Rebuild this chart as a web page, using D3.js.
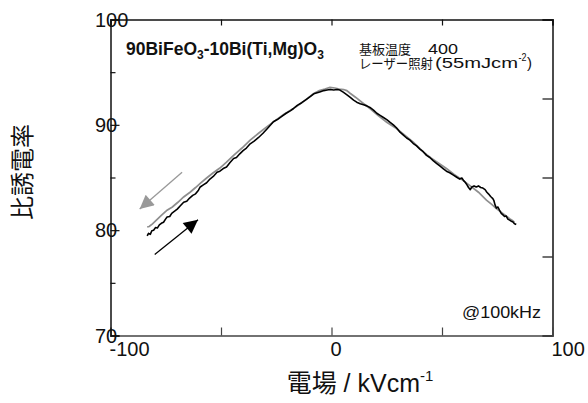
<!DOCTYPE html>
<html><head><meta charset="utf-8">
<script src="https://cdn.jsdelivr.net/npm/d3@7"></script>
<style>
body{margin:0;background:#fff;}
svg{display:block;}
text{font-family:"Liberation Sans",Arial,"Noto Sans CJK JP",sans-serif;fill:#111;}
.cjk{font-family:"Noto Sans CJK JP","Liberation Sans",sans-serif;}
</style></head>
<body><svg id="c" width="588" height="403"></svg>
<script>
// ---- data ----
const xTickLabels = [-100, 0, 100];
const yTickLabels = [70, 80, 90, 100];
const yMinorTicks = [75, 85, 95];
const xInnerTicks = [-50, 0, 50];
const rightTicks = [70, 77.5, 85, 92.5, 100];
const topTicks = [-100, -50, 0, 50, 100];

// rising sweep (black)
const upSweep = [[-83.4,79.45],[-82.8,79.7],[-82.0,79.6],[-81.3,79.95],[-80.5,80.0],[-79.6,80.25],[-78.8,80.2],[-77.9,80.5],[-77.0,80.65],[-76.0,80.75],[-75.1,81.05],[-74.4,81.25],[-73.2,81.3],[-72.3,81.6],[-71.0,81.8],[-69.8,82.0],[-68.5,82.3],[-66.9,82.65],[-65.5,82.75],[-64.2,83.05],[-62.8,83.3],[-61.5,83.45],[-60.2,83.8],[-59.4,84.1],[-58.0,84.3],[-56.5,84.5],[-55.0,84.85],[-53.5,85.1],[-51.8,85.5],[-50.5,85.6],[-49.0,85.85],[-47.5,86.0],[-46.0,86.4],[-44.3,86.8],[-43.0,86.9],[-41.5,87.25],[-40.0,87.55],[-38.5,87.8],[-36.8,88.2],[-35.0,88.45],[-33.0,88.8],[-31.0,89.2],[-29.0,89.65],[-27.5,90.0],[-26.3,90.3],[-24.5,90.5],[-22.5,90.8],[-20.5,91.1],[-18.5,91.35],[-17.2,91.55],[-15.5,91.85],[-13.5,92.1],[-11.5,92.4],[-9.5,92.7],[-8.0,92.95],[-6.5,93.05],[-5.0,93.15],[-3.5,93.25],[-2.0,93.3],[-0.5,93.35],[1.0,93.3],[2.5,93.35],[3.8,93.3],[5.3,93.1],[7.0,92.85],[8.5,92.6],[10.0,92.35],[11.4,92.15],[13.0,92.0],[14.5,91.9],[16.0,91.8],[17.4,91.65],[19.0,91.4],[20.5,91.1],[22.0,90.9],[23.5,90.7],[25.0,90.5],[26.4,90.25],[28.0,90.0],[29.5,89.7],[31.0,89.3],[32.4,89.05],[34.0,88.75],[35.5,88.55],[36.9,88.25],[38.5,88.0],[40.0,87.7],[41.5,87.45],[43.0,87.1],[44.5,86.9],[46.0,86.6],[47.5,86.35],[49.0,86.1],[50.5,85.85],[52.0,85.6],[53.5,85.45],[55.0,85.25],[56.5,85.05],[58.0,84.85],[59.0,84.95],[59.8,84.7],[60.5,84.55],[61.3,84.3],[62.0,84.05],[62.8,83.85],[63.5,84.1],[64.5,84.2],[65.5,84.1],[66.5,84.2],[67.5,84.05],[68.5,84.0],[69.5,83.85],[70.3,83.6],[71.0,83.45],[72.0,83.2],[73.0,83.0],[73.5,82.8],[74.0,82.4],[74.6,82.1],[75.3,82.2],[76.0,81.9],[76.8,81.6],[77.6,81.45],[78.3,81.3],[79.0,81.35],[79.8,81.05],[80.6,80.95],[81.3,80.85],[82.0,80.8],[82.8,80.6],[83.6,80.55]];

// falling sweep (gray)
const downSweep = [[-83.4,80.3],[-82.5,80.35],[-81.0,80.6],[-79.0,81.0],[-77.0,81.4],[-74.4,81.9],[-72.0,82.2],[-69.5,82.65],[-66.9,83.15],[-64.0,83.6],[-61.5,84.05],[-59.4,84.45],[-56.5,84.95],[-53.5,85.45],[-50.5,85.9],[-47.5,86.45],[-44.3,87.1],[-40.5,87.8],[-36.8,88.55],[-33.0,89.2],[-29.3,89.8],[-25.5,90.4],[-21.5,91.0],[-17.2,91.55],[-13.0,92.15],[-8.2,92.95],[-5.5,93.25],[-3.0,93.4],[-0.7,93.55],[1.5,93.5],[3.5,93.4],[5.5,93.35],[6.9,93.25],[8.4,93.0],[11.0,92.6],[14.0,92.1],[17.4,91.55],[21.0,90.9],[25.0,90.25],[29.4,89.65],[33.0,89.05],[37.0,88.35],[41.4,87.45],[45.0,86.85],[48.5,86.35],[52.0,85.85],[55.5,85.3],[59.0,84.8],[62.5,84.25],[66.5,83.6],[70.1,82.85],[72.5,82.45],[74.6,82.05],[77.5,81.6],[80.6,81.1],[82.0,80.9],[82.8,80.75]];

// sweep direction arrows: [tail, tip]
const downArrow = [[-67.6,85.5],[-86.8,82.0]];
const upArrow = [[-80.0,77.7],[-60.4,81.0]];

// ---- chart ----
const svg = d3.select("#c");
const L=110.5, R=552.5, T=19.5, B=335.5;
const x = d3.scaleLinear().domain([-100,100]).range([L,R]);
const y = d3.scaleLinear().domain([70,100]).range([B,T]);

const defs = svg.append("defs");
function marker(id,col){
  defs.append("marker").attr("id",id).attr("viewBox","0 0 10 10").attr("refX",10).attr("refY",5)
    .attr("markerWidth",19).attr("markerHeight",14).attr("markerUnits","userSpaceOnUse").attr("orient","auto")
    .append("path").attr("d","M0,0 L10,5 L0,10 Z").attr("fill",col);
}
marker("mg","#999");
marker("mk","#000");

// top axis
svg.append("g").attr("transform",`translate(0,${T})`)
  .call(d3.axisTop(x).tickValues(topTicks).tickSize(-6).tickFormat(""))
  .call(g=>{g.select(".domain").attr("stroke","#111").attr("stroke-width",1.5);g.selectAll("line").attr("stroke","#111").attr("stroke-width",1.2);});
// right axis
svg.append("g").attr("transform",`translate(${R},0)`)
  .call(d3.axisRight(y).tickValues(rightTicks).tickSize(-10).tickFormat(""))
  .call(g=>{g.select(".domain").attr("stroke","#111").attr("stroke-width",1.5);g.selectAll("line").attr("stroke","#111").attr("stroke-width",1.2);});
// bottom axis
svg.append("g").attr("transform",`translate(0,${B})`)
  .call(d3.axisBottom(x).tickValues(xInnerTicks).tickSize(-8).tickFormat(""))
  .call(g=>{g.select(".domain").attr("stroke","#444").attr("stroke-width",1.5);g.selectAll("line").attr("stroke","#444").attr("stroke-width",1.2);});
svg.append("g").selectAll("text").data(xTickLabels).join("text")
  .attr("x",d=>x(d)-1).attr("y",B+20).attr("font-size",20).attr("text-anchor","start").text(d=>d);
// left axis
svg.append("g").attr("transform",`translate(${L},0)`)
  .call(d3.axisLeft(y).tickValues(yTickLabels).tickSize(-9).tickFormat(""))
  .call(g=>{g.select(".domain").attr("stroke","#111").attr("stroke-width",1.5);g.selectAll("line").attr("stroke","#111").attr("stroke-width",1.2);});
svg.append("g").attr("transform",`translate(${L},0)`)
  .call(d3.axisLeft(y).tickValues(yMinorTicks).tickSize(-5).tickFormat(""))
  .call(g=>{g.select(".domain").remove();g.selectAll("line").attr("stroke","#111").attr("stroke-width",1.2);});
svg.append("g").selectAll("text").data(yTickLabels).join("text")
  .attr("x",95).attr("y",d=>y(d)+7).attr("font-size",20).attr("text-anchor","start").text(d=>d);

// curves
const line = d3.line().x(d=>x(d[0])).y(d=>y(d[1]));
svg.append("path").datum(downSweep).attr("d",line).attr("fill","none").attr("stroke","#8e8e8e").attr("stroke-width",1.7);
svg.append("path").datum(upSweep).attr("d",line).attr("fill","none").attr("stroke","#000").attr("stroke-width",1.6).attr("stroke-linejoin","round");

// arrows
svg.append("path").datum(downArrow).attr("d",line).attr("stroke","#999").attr("stroke-width",1.3).attr("marker-end","url(#mg)");
svg.append("path").datum(upArrow).attr("d",line).attr("stroke","#000").attr("stroke-width",1.3).attr("marker-end","url(#mk)");

// annotations
const t1 = svg.append("text").attr("x",126).attr("y",55).attr("font-size",17.5).attr("font-weight","bold");
t1.append("tspan").text("90BiFeO");
t1.append("tspan").attr("font-size",12).attr("dy",4).text("3");
t1.append("tspan").attr("dy",-4).text("-10Bi(Ti,Mg)O");
t1.append("tspan").attr("font-size",12).attr("dy",4).text("3");

function fitText(str, x0, yb, w, fs, cls){
  const t = svg.append("text").attr("x",x0).attr("y",yb).attr("font-size",fs)
    .attr("textLength",w).attr("lengthAdjust","spacingAndGlyphs").text(str);
  if(cls) t.attr("class",cls);
  return t;
}
fitText("基板温度", 359, 53.5, 52, 13, "cjk");
fitText("400", 428, 53.5, 30, 14.5);
fitText("レーザー照射", 359, 68, 74, 13, "cjk");
fitText("(55mJcm", 435, 68, 83, 15.5);
fitText("-2", 518.5, 61, 8, 10);
fitText(")", 527, 68, 5, 15.5);

fitText("@100kHz", 462, 318, 79, 16.5);

// axis titles
const xt = svg.append("text").attr("x",360).attr("y",392).attr("font-size",25).attr("text-anchor","middle");
xt.append("tspan").attr("class","cjk").text("電場");
xt.append("tspan").text(" / kVcm");
xt.append("tspan").attr("font-size",15).attr("dy",-11).text("-1");

svg.append("text").attr("class","cjk").attr("transform","translate(31,172) rotate(-90)")
  .attr("font-size",24).attr("text-anchor","middle").text("比誘電率");
</script></body></html>
